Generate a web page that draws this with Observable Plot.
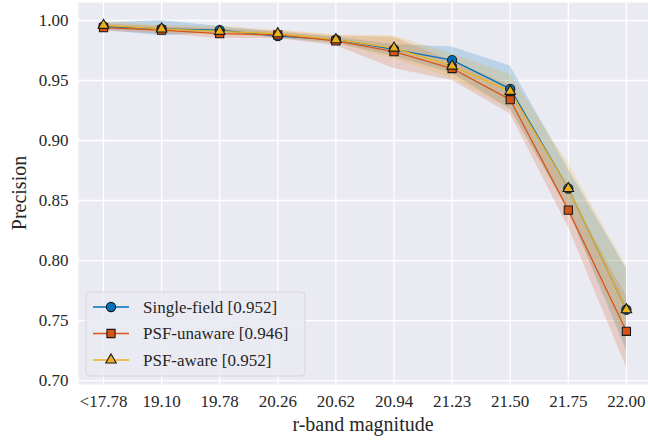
<!DOCTYPE html>
<html>
<head>
<meta charset="utf-8">
<script src="https://cdn.jsdelivr.net/npm/d3@7"></script>
<script src="https://cdn.jsdelivr.net/npm/@observablehq/plot@0.6"></script>
<style>
  html, body { margin: 0; padding: 0; background: #ffffff; }
  #chart { width: 648px; height: 440px; }
</style>
</head>
<body>
<div id="chart"></div>
<script>
const magLabels = ["<17.78", "19.10", "19.78", "20.26", "20.62", "20.94", "21.23", "21.50", "21.75", "22.00"];
const yTicks = [0.70, 0.75, 0.80, 0.85, 0.90, 0.95, 1.00];

const seriesNames = ["Single-field [0.952]", "PSF-unaware [0.946]", "PSF-aware [0.952]"];
const seriesColors = ["#0072BD", "#D95319", "#EDB120"];
const seriesSymbols = ["circle", "square", "triangle"];
const symbolRadius = [4.6, 4.6, 3.9];

const singleField = [0.995, 0.993, 0.992, 0.987, 0.984, 0.976, 0.967, 0.943, 0.860, 0.759];
const singleFieldLo = [0.992, 0.987, 0.990, 0.985, 0.981, 0.970, 0.956, 0.926, 0.842, 0.725];
const singleFieldHi = [0.998, 1.000, 0.995, 0.990, 0.986, 0.980, 0.978, 0.962, 0.876, 0.793];

const psfUnaware = [0.994, 0.992, 0.989, 0.988, 0.983, 0.974, 0.960, 0.934, 0.842, 0.741];
const psfUnawareLo = [0.991, 0.989, 0.985, 0.985, 0.979, 0.960, 0.950, 0.922, 0.828, 0.711];
const psfUnawareHi = [0.997, 0.995, 0.993, 0.991, 0.987, 0.986, 0.966, 0.946, 0.858, 0.770];

const psfAware = [0.996, 0.993, 0.991, 0.989, 0.984, 0.977, 0.962, 0.941, 0.860, 0.759];
const psfAwareLo = [0.993, 0.990, 0.988, 0.986, 0.981, 0.968, 0.952, 0.926, 0.842, 0.730];
const psfAwareHi = [0.999, 0.996, 0.995, 0.992, 0.988, 0.987, 0.972, 0.955, 0.881, 0.795];

const allSeries = [
  [singleField, singleFieldLo, singleFieldHi],
  [psfUnaware, psfUnawareLo, psfUnawareHi],
  [psfAware, psfAwareLo, psfAwareHi]
];

const rows = [];
allSeries.forEach(([v, lo, hi], s) => {
  v.forEach((val, i) => rows.push({series: seriesNames[s], s, i, v: val, lo: lo[i], hi: hi[i]}));
});

const FONT = "Liberation Serif";

const marks = [
  Plot.frame({fill: "#EAEAF2", stroke: "none"}),
  Plot.gridX(d3.range(10), {stroke: "#ffffff", strokeOpacity: 1, strokeWidth: 1.3}),
  Plot.gridY(yTicks, {stroke: "#ffffff", strokeOpacity: 1, strokeWidth: 1.3}),
];
seriesNames.forEach((name, s) => {
  marks.push(Plot.areaY(rows.filter(d => d.s === s), {x: "i", y1: "lo", y2: "hi", fill: seriesColors[s], fillOpacity: 0.2}));
});
seriesNames.forEach((name, s) => {
  marks.push(Plot.lineY(rows.filter(d => d.s === s), {x: "i", y: "v", stroke: seriesColors[s], strokeWidth: 1.3}));
});
seriesNames.forEach((name, s) => {
  marks.push(Plot.dot(rows.filter(d => d.s === s), {x: "i", y: "v", fill: seriesColors[s], stroke: "#1a1a1a", strokeWidth: 1.1, symbol: seriesSymbols[s], r: symbolRadius[s]}));
});
marks.push(Plot.axisX(d3.range(10), {tickSize: 0, tickPadding: 10, tickFormat: i => magLabels[i], fontSize: 17, label: null}));
marks.push(Plot.axisY(yTicks, {tickSize: 0, tickPadding: 10, tickFormat: d3.format(".2f"), fontSize: 17, label: null}));

const plot = Plot.plot({
  width: 648,
  height: 440,
  marginLeft: 78,
  marginRight: 0,
  marginTop: 2,
  marginBottom: 56,
  style: {fontFamily: FONT, fontSize: "17px", color: "#262626", background: "#ffffff"},
  x: {type: "linear", domain: [-0.43, 9.38]},
  y: {domain: [0.6967, 1.015]},
  marks
});

const svg = d3.select(plot);
svg.attr("font-family", FONT);
// axis titles
svg.append("text").attr("x", 78 + (648 - 78) / 2).attr("y", 431)
  .attr("text-anchor", "middle").attr("font-size", 20).attr("fill", "#262626")
  .text("r-band magnitude");
svg.append("text").attr("transform", "translate(26,193) rotate(-90)")
  .attr("text-anchor", "middle").attr("font-size", 20).attr("fill", "#262626")
  .text("Precision");

// legend
const lg = svg.append("g").attr("transform", "translate(86,292)");
lg.append("rect").attr("width", 219).attr("height", 84).attr("rx", 4)
  .attr("fill", "#EAEAF2").attr("fill-opacity", 0.85).attr("stroke", "#d6d6d6").attr("stroke-width", 1);
const sym = {circle: d3.symbolCircle, square: d3.symbolSquare, triangle: d3.symbolTriangle};
seriesNames.forEach((name, s) => {
  const y = 15 + s * 26.5;
  lg.append("line").attr("x1", 7).attr("x2", 43).attr("y1", y).attr("y2", y)
    .attr("stroke", seriesColors[s]).attr("stroke-width", 1.3);
  lg.append("path").attr("transform", `translate(25,${y})`)
    .attr("d", d3.symbol(sym[seriesSymbols[s]], Math.PI * symbolRadius[s] * symbolRadius[s])())
    .attr("fill", seriesColors[s]).attr("stroke", "#1a1a1a").attr("stroke-width", 1.1);
  lg.append("text").attr("x", 57).attr("y", y).attr("dy", "0.35em").attr("text-anchor", "start")
    .attr("font-size", 17).attr("fill", "#262626").text(name);
});
svg.selectAll("text").attr("font-family", FONT);

document.getElementById("chart").appendChild(plot);
</script>
</body>
</html>
